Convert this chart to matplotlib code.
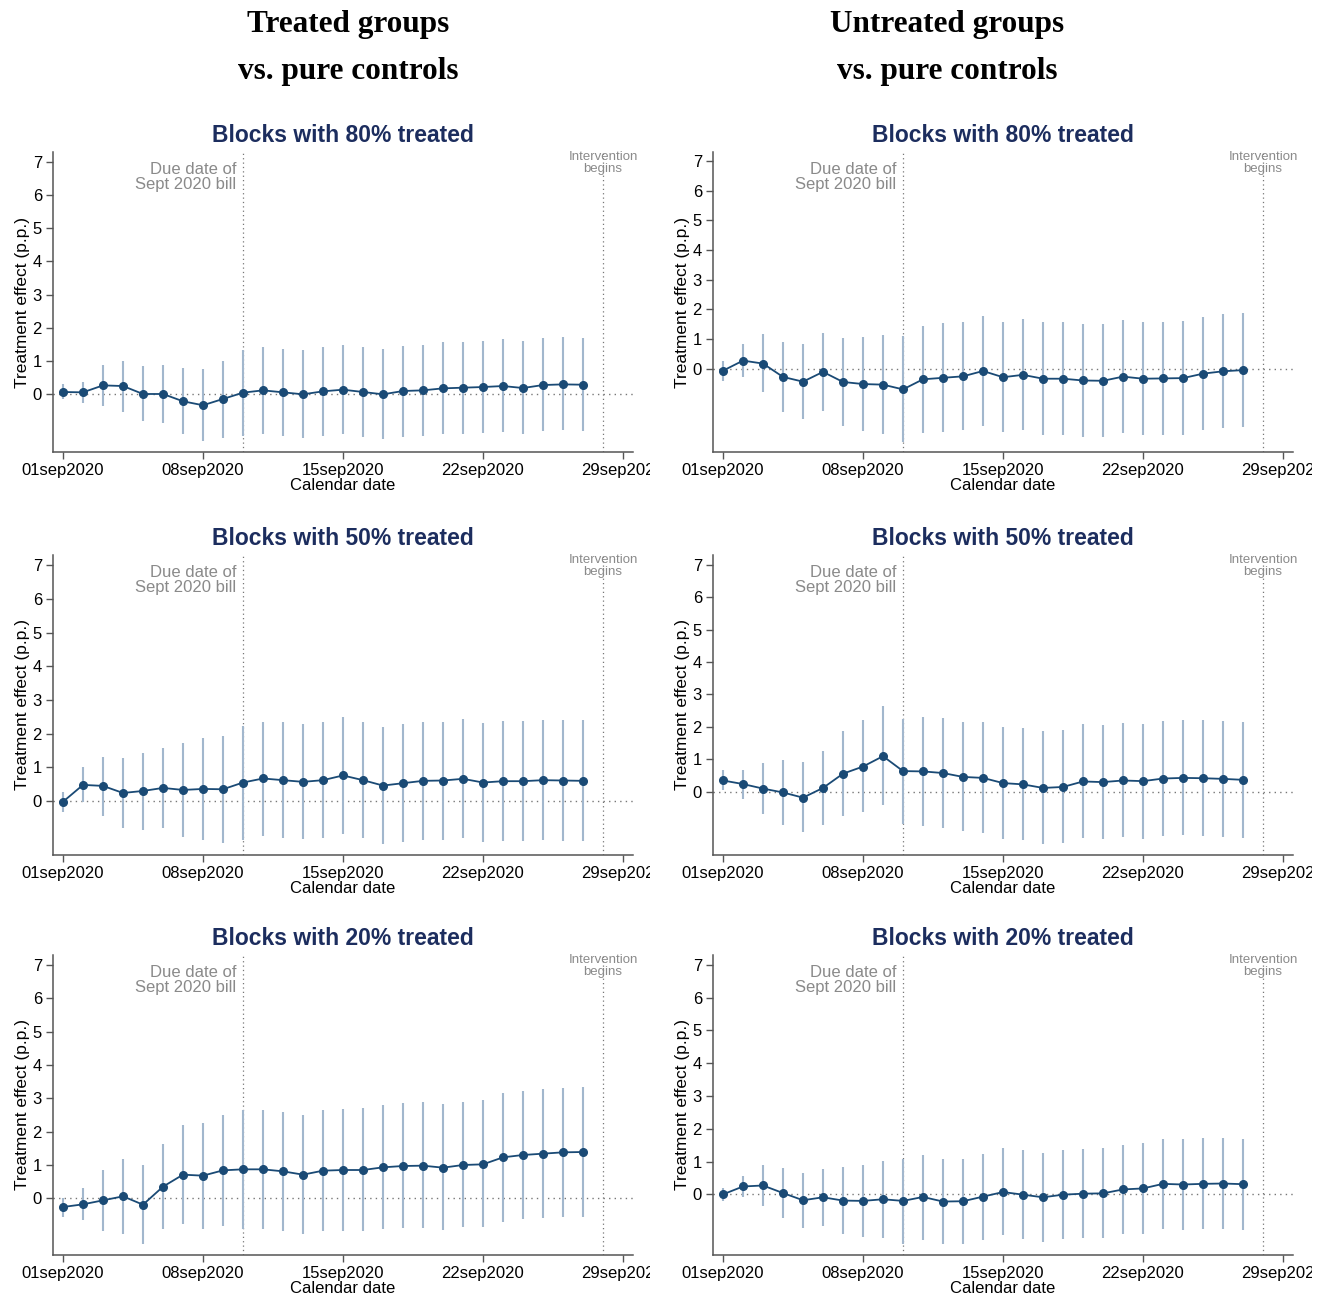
import numpy as np
import pandas as pd
import matplotlib
matplotlib.use("Agg")
import matplotlib.pyplot as plt
from matplotlib.transforms import Bbox

plt.rcParams['font.family'] = ['Liberation Sans', 'DejaVu Sans']

# Sep 1 .. Sep 27, 2020
dates = pd.date_range("2020-09-01", "2020-09-27")
due_date = pd.Timestamp("2020-09-10")
start_date = pd.Timestamp("2020-09-28")
tick_dates = pd.to_datetime(["2020-09-01", "2020-09-08", "2020-09-15", "2020-09-22", "2020-09-29"])
tick_labels = ["01sep2020", "08sep2020", "15sep2020", "22sep2020", "29sep2020"]

col_titles = ["Treated groups\nvs. pure controls", "Untreated groups\nvs. pure controls"]
row_titles = ["Blocks with 80% treated", "Blocks with 50% treated", "Blocks with 20% treated"]

# treated vs pure controls
t80_est = [0.06, 0.05, 0.26, 0.24, 0.00, 0.00, -0.22, -0.34, -0.15, 0.04, 0.11, 0.05, -0.01, 0.08,
           0.13, 0.06, -0.01, 0.09, 0.11, 0.17, 0.19, 0.21, 0.24, 0.18, 0.27, 0.29, 0.28]
t80_hi = [0.29, 0.36, 0.88, 1.01, 0.84, 0.88, 0.78, 0.75, 1.01, 1.33, 1.41, 1.37, 1.32, 1.41,
          1.47, 1.41, 1.36, 1.45, 1.47, 1.56, 1.58, 1.60, 1.65, 1.59, 1.69, 1.71, 1.69]
t80_lo = [-0.15, -0.26, -0.36, -0.53, -0.82, -0.87, -1.22, -1.42, -1.34, -1.27, -1.21, -1.26, -1.32, -1.26,
          -1.22, -1.29, -1.36, -1.29, -1.26, -1.21, -1.20, -1.18, -1.15, -1.21, -1.11, -1.10, -1.11]

t50_est = [-0.02, 0.48, 0.45, 0.24, 0.30, 0.39, 0.33, 0.36, 0.35, 0.55, 0.67, 0.62, 0.57, 0.62,
           0.76, 0.62, 0.46, 0.53, 0.60, 0.61, 0.66, 0.55, 0.59, 0.59, 0.62, 0.61, 0.60]
t50_hi = [0.28, 1.01, 1.31, 1.29, 1.42, 1.58, 1.72, 1.86, 1.93, 2.23, 2.36, 2.34, 2.28, 2.34,
          2.48, 2.34, 2.21, 2.28, 2.34, 2.36, 2.42, 2.33, 2.37, 2.37, 2.41, 2.40, 2.40]
t50_lo = [-0.32, -0.03, -0.43, -0.81, -0.85, -0.81, -1.07, -1.15, -1.24, -1.16, -1.03, -1.09, -1.14, -1.09,
          -0.97, -1.11, -1.27, -1.22, -1.15, -1.15, -1.10, -1.22, -1.18, -1.18, -1.16, -1.17, -1.18]

t20_est = [-0.26, -0.18, -0.06, 0.06, -0.19, 0.35, 0.71, 0.68, 0.84, 0.87, 0.87, 0.81, 0.71, 0.83,
           0.85, 0.85, 0.93, 0.97, 0.98, 0.92, 1.00, 1.02, 1.23, 1.30, 1.34, 1.38, 1.39]
t20_hi = [0.02, 0.31, 0.86, 1.18, 1.00, 1.62, 2.21, 2.27, 2.51, 2.66, 2.66, 2.59, 2.51, 2.65,
          2.68, 2.70, 2.81, 2.86, 2.88, 2.82, 2.90, 2.95, 3.16, 3.23, 3.28, 3.32, 3.35]
t20_lo = [-0.55, -0.66, -0.97, -1.07, -1.37, -0.93, -0.77, -0.91, -0.82, -0.91, -0.91, -0.97, -1.08, -0.98,
          -0.97, -0.99, -0.93, -0.90, -0.88, -0.94, -0.87, -0.87, -0.70, -0.62, -0.59, -0.55, -0.55]

# untreated vs pure controls
u80_est = [-0.07, 0.27, 0.17, -0.28, -0.44, -0.11, -0.45, -0.52, -0.54, -0.70, -0.36, -0.31, -0.26, -0.08,
           -0.29, -0.21, -0.34, -0.34, -0.40, -0.41, -0.27, -0.34, -0.33, -0.32, -0.17, -0.09, -0.05]
u80_hi = [0.26, 0.83, 1.15, 0.90, 0.84, 1.21, 1.04, 1.07, 1.14, 1.09, 1.45, 1.53, 1.58, 1.78,
          1.57, 1.67, 1.56, 1.56, 1.49, 1.49, 1.65, 1.58, 1.58, 1.60, 1.75, 1.84, 1.89]
u80_lo = [-0.41, -0.27, -0.80, -1.46, -1.70, -1.44, -1.92, -2.10, -2.21, -2.48, -2.16, -2.12, -2.07, -1.92,
          -2.15, -2.07, -2.23, -2.24, -2.30, -2.30, -2.17, -2.24, -2.24, -2.24, -2.08, -2.01, -1.96]

u50_est = [0.34, 0.23, 0.09, -0.03, -0.19, 0.11, 0.55, 0.77, 1.09, 0.63, 0.62, 0.57, 0.45, 0.42,
           0.26, 0.22, 0.11, 0.14, 0.31, 0.29, 0.34, 0.32, 0.40, 0.42, 0.41, 0.39, 0.36]
u50_hi = [0.65, 0.67, 0.89, 0.96, 0.90, 1.25, 1.86, 2.20, 2.63, 2.25, 2.30, 2.26, 2.16, 2.14,
          1.98, 1.95, 1.86, 1.90, 2.07, 2.05, 2.11, 2.08, 2.17, 2.21, 2.20, 2.17, 2.15]
u50_lo = [0.04, -0.22, -0.70, -1.03, -1.26, -1.03, -0.76, -0.64, -0.43, -1.01, -1.06, -1.12, -1.23, -1.28,
          -1.46, -1.51, -1.63, -1.60, -1.44, -1.48, -1.40, -1.46, -1.37, -1.35, -1.37, -1.39, -1.42]

u20_est = [0.00, 0.24, 0.27, 0.04, -0.18, -0.09, -0.19, -0.20, -0.15, -0.20, -0.08, -0.22, -0.21, -0.07,
           0.07, -0.01, -0.09, -0.01, 0.02, 0.03, 0.15, 0.18, 0.32, 0.30, 0.32, 0.33, 0.31]
u20_hi = [0.20, 0.57, 0.89, 0.81, 0.64, 0.78, 0.82, 0.91, 1.03, 1.09, 1.20, 1.07, 1.09, 1.24,
          1.41, 1.35, 1.26, 1.36, 1.39, 1.40, 1.51, 1.58, 1.70, 1.69, 1.71, 1.73, 1.70]
u20_lo = [-0.20, -0.08, -0.37, -0.72, -1.02, -0.96, -1.21, -1.31, -1.33, -1.51, -1.38, -1.52, -1.50, -1.38,
          -1.25, -1.35, -1.45, -1.36, -1.34, -1.33, -1.22, -1.20, -1.07, -1.09, -1.07, -1.06, -1.10]

panels = [
    [(t80_est, t80_lo, t80_hi), (u80_est, u80_lo, u80_hi)],
    [(t50_est, t50_lo, t50_hi), (u50_est, u50_lo, u50_hi)],
    [(t20_est, t20_lo, t20_hi), (u20_est, u20_lo, u20_hi)],
]

W, H = 1325, 1300
fig = plt.figure(figsize=(W / 100, H / 100), dpi=100)

col_left = [53, 713]
col_width = 580
row_top = [152, 555, 955]
row_height = 300
col_clip = [650, 1312]
header_x = [348, 947]

point_col = "#1a4a75"
ci_col = "#a2b7cd"
title_col = "#1c2d5e"
grey = "#8a8a8a"
axis_col = "#555555"

for c in range(2):
    fig.text(header_x[c] / W, 1 - 48 / H, col_titles[c],
             ha="center", va="center", fontsize=22.5, fontweight="bold",
             family="Liberation Serif", linespacing=1.85)

for r in range(3):
    for c in range(2):
        est, lo, hi = panels[r][c]
        ax = fig.add_axes([col_left[c] / W, 1 - (row_top[r] + row_height) / H,
                           col_width / W, row_height / H])
        ymin = min(lo) - 0.33
        ax.set_ylim(ymin, 7.3)
        ax.set_xlim(pd.Timestamp("2020-08-31 12:00"), pd.Timestamp("2020-09-29 12:00"))

        ax.axhline(0, color="#777777", lw=1.0, ls=(0, (1, 3)), zorder=1)
        ax.axvline(due_date, color="#777777", lw=0.9, ls=(0, (1, 2.5)), zorder=1)
        ax.axvline(start_date, color="#777777", lw=0.9, ls=(0, (1, 2.5)), zorder=1)

        ax.vlines(dates, lo, hi, color=ci_col, lw=1.5, zorder=2)
        ax.plot(dates, est, color=point_col, lw=1.3, marker="o", markersize=5.5, zorder=3)

        # annotation offsets in pixels so every panel looks the same
        ax.annotate("Due date of\nSept 2020 bill", xy=(due_date, 1), xycoords=("data", "axes fraction"),
                    xytext=(-7, -10), textcoords="offset pixels",
                    ha="right", va="top", fontsize=12, color=grey, linespacing=1.0)
        ax.annotate("Intervention\nbegins", xy=(start_date, 1), xycoords=("data", "axes fraction"),
                    xytext=(0, 1), textcoords="offset pixels",
                    ha="center", va="top", fontsize=9.5, color=grey, linespacing=1.05,
                    annotation_clip=False)

        ax.set_title(row_titles[r], fontsize=16.5, fontweight="bold", color=title_col, pad=7)

        ax.set_yticks(range(8))
        ax.set_xticks(tick_dates)
        ax.set_xticklabels(tick_labels)
        ax.tick_params(axis="both", labelsize=12, length=5, width=1, color=axis_col, pad=3)
        ax.set_ylabel("Treatment effect (p.p.)", fontsize=12.5, labelpad=2)
        ax.set_xlabel("Calendar date", fontsize=12, labelpad=0)

        for s in ["top", "right"]:
            ax.spines[s].set_visible(False)
        for s in ["left", "bottom"]:
            ax.spines[s].set_color(axis_col)
            ax.spines[s].set_linewidth(1.1)

        clip = Bbox([[0, 0], [col_clip[c], H]])
        for lab in ax.get_xticklabels():
            lab.set_clip_on(True)
            lab.set_clip_box(clip)

fig.savefig("out.png", dpi=100)
